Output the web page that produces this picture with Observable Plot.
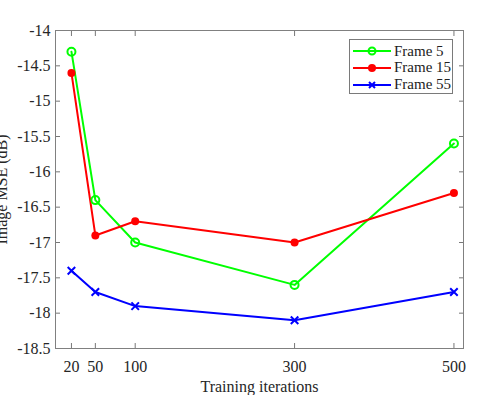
<!DOCTYPE html>
<html><head><meta charset="utf-8">
<script src="https://cdn.jsdelivr.net/npm/d3@7"></script>
<script src="https://cdn.jsdelivr.net/npm/@observablehq/plot@0.6"></script>
<style>
body{margin:0;background:#fff;}
#wrap{position:relative;width:499px;height:395px;overflow:hidden;}
#legend{position:absolute;left:349px;top:39px;width:104px;height:55px;border:1px solid #7a7a7a;background:#fff;box-sizing:border-box;}
#legend .row{position:absolute;left:0;height:16px;display:flex;align-items:center;font-family:'Liberation Serif',serif;font-size:15px;color:#222;white-space:nowrap;}
#legend .row span{font-family:'Liberation Serif',serif;}
</style></head>
<body><div id="wrap"><div id="chart"></div><div id="legend"></div></div>
<script>
const iterations = [20, 50, 100, 300, 500];
const frame5 = [-14.3, -16.4, -17.0, -17.6, -15.6];
const frame15 = [-14.6, -16.9, -16.7, -17.0, -16.3];
const frame55 = [-17.4, -17.7, -17.9, -18.1, -17.7];
const seriesNames = ["Frame 5", "Frame 15", "Frame 55"];
const seriesColors = ["#00ff00", "#ff0000", "#0000ff"];
const yTicks = [-18.5, -18, -17.5, -17, -16.5, -16, -15.5, -15, -14.5, -14];

const series = [frame5, frame15, frame55];
const data = series.flatMap((vals, s) => vals.map((v, i) => ({x: iterations[i], y: v, name: seriesNames[s]})));
const byName = n => data.filter(d => d.name === n);

const chart = Plot.plot({
  width: 499, height: 395,
  marginLeft: 55, marginRight: 36, marginTop: 30, marginBottom: 47,
  style: {fontFamily: "'Liberation Serif', serif", fontSize: "15px", color: "#262626", background: "#fff"},
  x: {domain: [0, 512]},
  y: {domain: [-18.5, -14]},
  marks: [
    Plot.axisX({anchor: "bottom", ticks: iterations, tickSize: -5, tickPadding: 17, stroke: "#777", label: "Training iterations", labelAnchor: "center", labelArrow: "none", labelOffset: 43, fontSize: 16, tickFormat: d => String(d)}),
    Plot.axisX({anchor: "top", ticks: iterations, tickSize: -5, stroke: "#777", tickFormat: () => "", label: null}),
    Plot.axisY({anchor: "left", ticks: yTicks, tickSize: -5, tickPadding: 10, stroke: "#777", label: "Image MSE (dB)", labelAnchor: "center", labelArrow: "none", labelOffset: 60, fontSize: 16, tickFormat: d => String(d)}),
    Plot.axisY({anchor: "right", ticks: yTicks, tickSize: -5, stroke: "#777", tickFormat: () => "", label: null}),
    Plot.frame({stroke: "#808080", strokeWidth: 1}),
    Plot.line(byName("Frame 5"), {x: "x", y: "y", stroke: seriesColors[0], strokeWidth: 2}),
    Plot.line(byName("Frame 15"), {x: "x", y: "y", stroke: seriesColors[1], strokeWidth: 2}),
    Plot.line(byName("Frame 55"), {x: "x", y: "y", stroke: seriesColors[2], strokeWidth: 2}),
    Plot.dot(byName("Frame 5"), {x: "x", y: "y", r: 4, stroke: seriesColors[0], fill: "none", strokeWidth: 2}),
    Plot.dot(byName("Frame 15"), {x: "x", y: "y", r: 4, fill: seriesColors[1], stroke: "none"}),
    Plot.dot(byName("Frame 55"), {x: "x", y: "y", r: 3.5, symbol: "times", stroke: seriesColors[2], strokeWidth: 2})
  ]
});
document.getElementById("chart").appendChild(chart);

// legend
const legend = document.getElementById("legend");
const symbols = [
  '<circle cx="19" cy="8" r="3.5" fill="none" stroke="#00ff00" stroke-width="2"/>',
  '<circle cx="19" cy="8" r="4" fill="#ff0000"/>',
  '<path d="M16,5L22,11M22,5L16,11" stroke="#0000ff" stroke-width="2"/>'
];
seriesNames.forEach((n, i) => {
  const row = document.createElement("div");
  row.className = "row";
  row.style.top = (3 + i * 16.8) + "px";
  row.innerHTML = `<svg width="41" height="16" style="margin-left:3px;flex:none"><line x1="0" x2="38" y1="8" y2="8" stroke="${seriesColors[i]}" stroke-width="2"/>${symbols[i]}</svg><span>${n}</span>`;
  legend.appendChild(row);
});
</script></body></html>
